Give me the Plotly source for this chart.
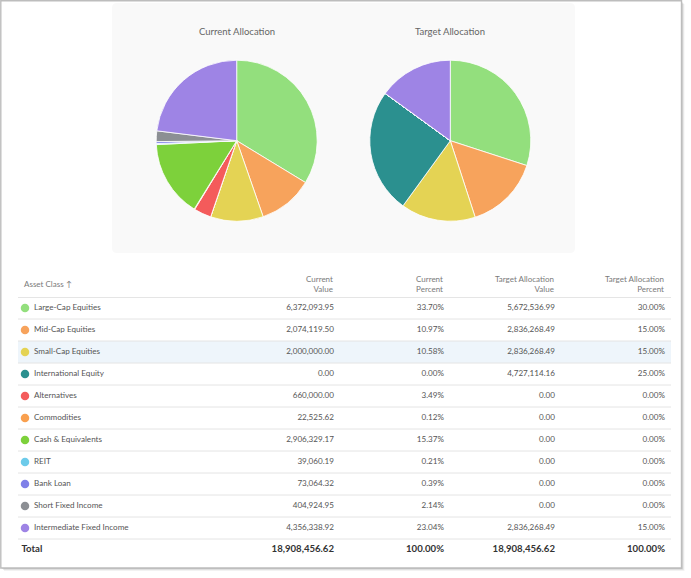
import plotly.graph_objects as go

W, H = 691, 578

# ---------------- data ----------------
asset_classes = ["Large-Cap Equities", "Mid-Cap Equities", "Small-Cap Equities",
                 "International Equity", "Alternatives", "Commodities",
                 "Cash & Equivalents", "REIT", "Bank Loan", "Short Fixed Income",
                 "Intermediate Fixed Income"]
class_colors = ["#93df7d", "#f7a35c", "#e4d354", "#2b908f", "#f45b5b", "#f9a04f",
                "#7dd13b", "#6dcbea", "#7f80e8", "#8c8f94", "#9e84e5"]
current_value = [6372093.95, 2074119.50, 2000000.00, 0.00, 660000.00, 22525.62,
                 2906329.17, 39060.19, 73064.32, 404924.95, 4356338.92]
current_percent = [33.70, 10.97, 10.58, 0.00, 3.49, 0.12, 15.37, 0.21, 0.39, 2.14, 23.04]
target_value = [5672536.99, 2836268.49, 2836268.49, 4727114.16, 0.00, 0.00,
                0.00, 0.00, 0.00, 0.00, 2836268.49]
target_percent = [30.00, 15.00, 15.00, 25.00, 0.00, 0.00, 0.00, 0.00, 0.00, 0.00, 15.00]
total_label = "Total"
total_current_value = 18908456.62
total_current_percent = 100.00
total_target_value = 18908456.62
total_target_percent = 100.00

chart_titles = ["Current Allocation", "Target Allocation"]
col_headers = ["Current<br>Value", "Current<br>Percent",
               "Target Allocation<br>Value", "Target Allocation<br>Percent"]
first_header = "Asset Class \u2191"

FONT = "Lato, 'Open Sans', sans-serif"


def px(x):
    return x / W


def py(y):
    return 1 - y / H


fig = go.Figure()

# ---------------- pies ----------------
pie_centers = [(236.7, 140.7), (450.3, 140.7)]
R = 80.5
for (cx, cy), vals, title in zip(pie_centers, [current_value, target_value], chart_titles):
    fig.add_trace(go.Pie(
        labels=asset_classes, values=vals, sort=False, direction="clockwise",
        rotation=0, textinfo="none", hoverinfo="label+percent",
        marker=dict(colors=class_colors, line=dict(color="white", width=0.8)),
        domain=dict(x=[px(cx - R), px(cx + R)], y=[py(cy + R), py(cy - R)]),
        showlegend=False, name=title,
    ))

# ---------------- table (scatter on hidden axes) ----------------
rows = asset_classes + [total_label]
col_x = [334, 444, 555, 665]
ROW_FONT = dict(family=FONT, size=8.1, color="#555555")
TOT_FONT = dict(family=FONT, size=9.6, color="#333333")

fig.add_trace(go.Scatter(
    x=[25] * len(asset_classes), y=asset_classes, mode="markers",
    marker=dict(color=class_colors, size=8.5, line=dict(width=0)),
    xaxis="x2", yaxis="y2", showlegend=False, hoverinfo="skip"))
fig.add_trace(go.Scatter(
    x=[34] * len(asset_classes), y=asset_classes, mode="text", text=asset_classes,
    textposition="middle right", textfont=ROW_FONT,
    xaxis="x2", yaxis="y2", showlegend=False, hoverinfo="skip"))

value_cols = [
    [f"{v:,.2f}" for v in current_value],
    [f"{v:.2f}%" for v in current_percent],
    [f"{v:,.2f}" for v in target_value],
    [f"{v:.2f}%" for v in target_percent],
]
for xc, texts in zip(col_x, value_cols):
    fig.add_trace(go.Scatter(
        x=[xc] * len(texts), y=asset_classes, mode="text", text=texts,
        textposition="middle left", textfont=ROW_FONT,
        xaxis="x2", yaxis="y2", showlegend=False, hoverinfo="skip"))

total_texts = [f"{total_current_value:,.2f}", f"{total_current_percent:.2f}%",
               f"{total_target_value:,.2f}", f"{total_target_percent:.2f}%"]
fig.add_trace(go.Scatter(
    x=col_x, y=[total_label] * 4, mode="text", text=[f"<b>{t}</b>" for t in total_texts],
    textposition="middle left", textfont=TOT_FONT,
    xaxis="x2", yaxis="y2", showlegend=False, hoverinfo="skip"))
fig.add_trace(go.Scatter(
    x=[21.5], y=[total_label], mode="text", text=[f"<b>{total_label}</b>"],
    textposition="middle right", textfont=TOT_FONT,
    xaxis="x2", yaxis="y2", showlegend=False, hoverinfo="skip"))

# ---------------- decorations ----------------
shapes = []
# outer card shadow + border
for off, col in [(3, "rgba(0,0,0,0.05)"), (2, "rgba(0,0,0,0.08)"), (1, "rgba(0,0,0,0.12)")]:
    shapes.append(dict(type="rect", xref="paper", yref="paper", layer="below",
                       x0=px(1 + off), x1=px(681.5 + off), y0=py(568 + off), y1=py(1 + off),
                       line=dict(width=0), fillcolor=col))
shapes.append(dict(type="rect", xref="paper", yref="paper", layer="below",
                   x0=px(0.8), x1=px(681.5), y0=py(568), y1=py(0.8),
                   line=dict(color="#bdbdbd", width=1.4), fillcolor="white"))
# chart panel (rounded)
x0, x1, y0, y1, r = 112, 575, 3, 253, 5
path = (f"M {px(x0 + r)} {py(y0)} L {px(x1 - r)} {py(y0)} Q {px(x1)} {py(y0)} {px(x1)} {py(y0 + r)} "
        f"L {px(x1)} {py(y1 - r)} Q {px(x1)} {py(y1)} {px(x1 - r)} {py(y1)} "
        f"L {px(x0 + r)} {py(y1)} Q {px(x0)} {py(y1)} {px(x0)} {py(y1 - r)} "
        f"L {px(x0)} {py(y0 + r)} Q {px(x0)} {py(y0)} {px(x0 + r)} {py(y0)} Z")
shapes.append(dict(type="path", path=path, xref="paper", yref="paper", layer="below",
                   fillcolor="#f9f9f9", line=dict(width=0)))
# highlighted row (Small-Cap)
hi = asset_classes.index("Small-Cap Equities")
shapes.append(dict(type="rect", xref="x2", yref="y2", layer="below",
                   x0=18, x1=671, y0=hi - 0.5, y1=hi + 0.5,
                   fillcolor="#eef5fb", line=dict(width=0)))
# header line
shapes.append(dict(type="line", xref="x2", yref="y2", layer="below",
                   x0=18, x1=671, y0=-0.5, y1=-0.5, line=dict(color="#dcdcdc", width=1.6)))
# row separators
for i in range(len(asset_classes)):
    shapes.append(dict(type="line", xref="x2", yref="y2", layer="below",
                       x0=18, x1=671, y0=i + 0.5, y1=i + 0.5,
                       line=dict(color="#e4e4e4", width=1)))

annotations = []
for (cx, cy), t in zip(pie_centers, chart_titles):
    annotations.append(dict(text=t, x=px(cx), y=py(31.5), xref="paper", yref="paper",
                            showarrow=False, xanchor="center", yanchor="middle",
                            font=dict(family=FONT, size=9.5, color="#666666")))
annotations.append(dict(text=first_header, x=px(22), y=py(284), xref="paper", yref="paper",
                        showarrow=False, xanchor="left", yanchor="middle",
                        font=dict(family=FONT, size=8.0, color="#7a7a7a")))
for xc, h in zip(col_x, col_headers):
    annotations.append(dict(text=h, x=px(xc + 1), y=py(284), xref="paper", yref="paper",
                            showarrow=False, xanchor="right", yanchor="middle", align="right",
                            font=dict(family=FONT, size=8.0, color="#7a7a7a")))

fig.update_layout(
    width=W, height=H, margin=dict(l=0, r=0, t=0, b=0, pad=0),
    paper_bgcolor="white", plot_bgcolor="rgba(0,0,0,0)",
    xaxis2=dict(domain=[0, 1], range=[0, W], visible=False, fixedrange=True, anchor="y2"),
    yaxis2=dict(domain=[py(561), py(297)], type="category", categoryorder="array",
                categoryarray=rows, range=[len(rows) - 0.5, -0.5], visible=False,
                fixedrange=True, anchor="x2"),
    xaxis=dict(visible=False), yaxis=dict(visible=False),
    shapes=shapes, annotations=annotations,
    font=dict(family=FONT),
)

fig.write_html("out.html", config=dict(displayModeBar=False),
               post_script="document.body.style.margin='0';document.body.style.overflow='hidden';")
